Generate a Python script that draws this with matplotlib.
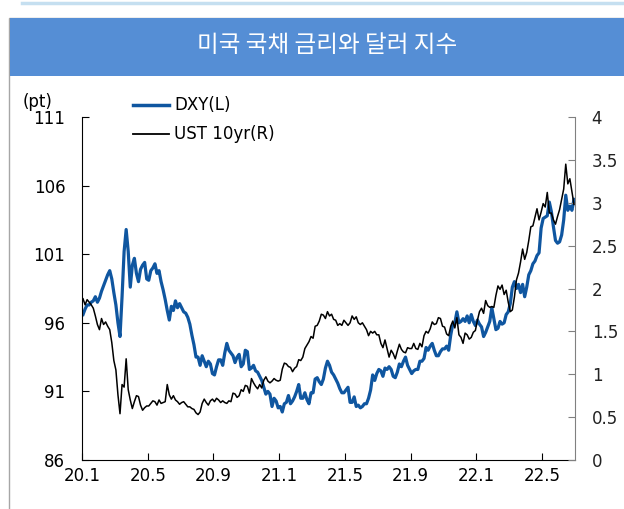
import numpy as np
import matplotlib.pyplot as plt
from matplotlib.patches import Rectangle
from matplotlib.lines import Line2D

plt.rcParams['font.family'] = ['DejaVu Sans', 'Noto Sans CJK KR']

# 월별 8개 관측치 (2020.1 ~ 2022.6)
dxy_2020 = [
    96.6, 97.0, 97.3, 97.3, 97.5, 97.6, 97.9, 97.5,
    97.8, 98.3, 98.7, 99.1, 99.5, 99.8, 99.2, 98.2,
    97.3, 96.0, 95.0, 97.9, 101.2, 102.8, 101.2, 98.6,
    100.2, 100.7, 99.6, 99.0, 99.9, 100.2, 100.4, 99.2,
    99.1, 99.8, 100.0, 100.3, 99.6, 99.8, 99.0, 98.4,
    97.7, 96.9, 96.2, 97.2, 96.9, 97.6, 97.1, 97.4,
    97.1, 96.8, 96.7, 96.4, 95.9, 95.1, 94.4, 93.5,
    93.5, 92.9, 93.6, 93.2, 92.8, 93.2, 93.0, 92.3,
    92.2, 92.8, 93.3, 93.3, 92.9, 93.8, 94.5, 94.0,
    93.8, 93.6, 93.1, 93.5, 93.7, 92.8, 93.0, 94.0,
    93.9, 92.6, 92.7, 92.9, 92.5, 92.4, 92.1, 91.8,
    91.3, 90.8, 91.0, 90.8, 89.9, 90.5, 90.3, 89.8,
]
dxy_2021 = [
    89.9, 89.5, 90.1, 90.2, 90.7, 90.1, 90.3, 90.6,
    91.0, 91.5, 90.5, 90.5, 90.9, 90.4, 90.1, 90.9,
    90.9, 91.9, 92.0, 91.7, 91.5, 91.9, 92.7, 93.2,
    92.9, 92.4, 92.2, 91.9, 91.6, 91.2, 90.9, 90.9,
    91.1, 91.3, 90.2, 90.2, 90.6, 89.9, 90.0, 89.8,
    89.9, 90.1, 90.1, 90.5, 91.1, 92.2, 91.8, 92.3,
    92.6, 92.5, 92.1, 92.7, 92.6, 92.8, 92.6, 92.1,
    92.0, 92.4, 93.0, 92.8, 93.2, 93.5, 92.9, 92.6,
    92.3, 92.5, 92.6, 92.6, 93.2, 93.2, 93.4, 94.2,
    94.0, 94.3, 94.5, 94.0, 93.6, 93.6, 93.9, 94.1,
    94.1, 94.3, 94.0, 95.1, 95.9, 96.0, 96.8, 96.0,
    96.1, 96.3, 96.1, 96.5, 96.0, 96.6, 96.1, 95.8,
]
dxy_2022 = [
    96.2, 95.9, 95.7, 95.0, 95.3, 95.7, 96.1, 97.1,
    96.3, 95.5, 95.6, 96.1, 95.9, 96.0, 96.6, 96.8,
    97.4, 98.6, 99.0, 98.5, 98.8, 98.2, 98.8, 97.9,
    98.6, 99.5, 99.8, 100.3, 100.5, 100.9, 101.1, 102.9,
    103.6, 103.7, 103.8, 104.8, 104.1, 103.0, 102.0, 101.8,
    101.9, 102.4, 103.5, 105.3, 104.2, 104.5, 104.2, 105.0,
]

ust_2020 = [
    1.88, 1.81, 1.87, 1.84, 1.81, 1.77, 1.68, 1.58,
    1.52, 1.65, 1.58, 1.61, 1.56, 1.52, 1.37, 1.16,
    1.05, 0.76, 0.54, 0.88, 0.85, 1.18, 0.82, 0.70,
    0.60, 0.68, 0.75, 0.74, 0.64, 0.58, 0.61, 0.63,
    0.63, 0.66, 0.69, 0.68, 0.64, 0.70, 0.66, 0.67,
    0.68, 0.88, 0.76, 0.71, 0.75, 0.70, 0.68, 0.65,
    0.67, 0.68, 0.65, 0.62, 0.62, 0.60, 0.59, 0.55,
    0.53, 0.56, 0.66, 0.71, 0.67, 0.64, 0.69, 0.71,
    0.68, 0.72, 0.70, 0.67, 0.69, 0.67, 0.66, 0.69,
    0.68, 0.78, 0.77, 0.73, 0.75, 0.82, 0.80, 0.87,
    0.86, 0.78, 0.95, 0.90, 0.86, 0.83, 0.88, 0.84,
    0.93, 0.97, 0.92, 0.90, 0.92, 0.95, 0.93, 0.92,
]
ust_2021 = [
    0.93, 1.06, 1.13, 1.12, 1.09, 1.08, 1.03, 1.07,
    1.09, 1.17, 1.16, 1.20, 1.30, 1.34, 1.38, 1.44,
    1.42, 1.56, 1.57, 1.62, 1.70, 1.69, 1.65, 1.73,
    1.68, 1.70, 1.64, 1.63, 1.57, 1.59, 1.57, 1.63,
    1.60, 1.57, 1.60, 1.68, 1.64, 1.67, 1.60, 1.58,
    1.60, 1.56, 1.52, 1.45, 1.50, 1.48, 1.50, 1.46,
    1.46, 1.36, 1.31, 1.40, 1.30, 1.20, 1.28, 1.24,
    1.18, 1.27, 1.35, 1.29, 1.26, 1.25, 1.31, 1.30,
    1.30, 1.36, 1.30, 1.29, 1.36, 1.32, 1.45, 1.50,
    1.48, 1.53, 1.61, 1.58, 1.59, 1.66, 1.65, 1.56,
    1.55, 1.47, 1.45, 1.56, 1.62, 1.54, 1.66, 1.46,
    1.43, 1.36, 1.48, 1.46, 1.41, 1.43, 1.49, 1.51,
]
ust_2022 = [
    1.63, 1.73, 1.77, 1.71, 1.86, 1.80, 1.78, 1.79,
    1.78, 1.92, 2.03, 1.99, 2.04, 1.93, 1.98, 1.84,
    1.73, 1.75, 1.90, 2.10, 2.18, 2.31, 2.46, 2.34,
    2.42, 2.56, 2.72, 2.73, 2.83, 2.93, 2.80, 2.89,
    2.99, 2.95, 3.12, 2.88, 2.88, 2.80, 2.75, 2.84,
    2.92, 3.04, 3.16, 3.45, 3.22, 3.28, 3.13, 2.98,
]

tick_labels = ['20.1', '20.5', '20.9', '21.1', '21.5', '21.9', '22.1', '22.5']

dxy = np.array(dxy_2020 + dxy_2021 + dxy_2022)
ust = np.array(ust_2020 + ust_2021 + ust_2022)
x_dxy = (np.arange(len(dxy)) + 0.5) / 8  # 단위: 월
x_ust = (np.arange(len(ust)) + 0.5) / 8

W, H = 624, 509
fig = plt.figure(figsize=(W / 100, H / 100), dpi=100)

# 배경 장식 (제목 바, 테두리)
fig.add_artist(Line2D([22 / W, 1], [1 - 3 / H, 1 - 3 / H], color='#c5dff0', lw=2.5,
                      transform=fig.transFigure))
fig.add_artist(Rectangle((9 / W, -0.05), 1.0, 1 - 18 / H + 0.05, transform=fig.transFigure,
                         facecolor='none', edgecolor='#a6a6a6', lw=1))
fig.add_artist(Rectangle((9.5 / W, 1 - 76 / H), 1.0, 58 / H, transform=fig.transFigure,
                         facecolor='#558ed5', edgecolor='none'))
fig.text(327 / W, 1 - 45 / H, '미국 국채 금리와 달러 지수', color='white', fontsize=17,
         ha='center', va='center', family=['Noto Sans CJK KR', 'DejaVu Sans'])

ax = fig.add_axes([82 / W, 1 - 460 / H, (575 - 82) / W, (460 - 117) / H])
ax.plot(x_dxy, dxy, color='#0f56a0', lw=2.3)
ax.set_xlim(0, 30)
ax.set_ylim(86, 111)
ax.set_yticks(np.arange(86, 112, 5))
ax.set_xticks(np.arange(len(tick_labels)) * 4)
ax.set_xticklabels(tick_labels)
ax.tick_params(axis='x', direction='in', length=5, labelsize=12, pad=5)
ax.tick_params(axis='y', direction='in', length=5, labelsize=12, pad=12)
ax.spines['top'].set_visible(False)
ax.spines['right'].set_visible(False)

ax2 = ax.twinx()
ax2.plot(x_ust, ust, color='black', lw=1.1)
ax2.set_ylim(0, 4)
ax2.set_yticks(np.arange(0, 4.01, 0.5))
ax2.set_yticklabels(['%g' % v for v in np.arange(0, 4.01, 0.5)])
ax2.tick_params(axis='y', direction='in', length=5, labelsize=12, pad=12,
                color='#808080', labelcolor='#222222')
for s in ['top', 'left', 'bottom']:
    ax2.spines[s].set_visible(False)
ax2.spines['right'].set_color('#808080')

fig.text(38 / W, 1 - 102 / H, '(pt)', fontsize=12, ha='center', va='center')

# 범례
fig.add_artist(Line2D([133 / W, 169 / W], [1 - 105 / H] * 2, color='#0f56a0', lw=2.5,
                      transform=fig.transFigure))
fig.add_artist(Line2D([133 / W, 169 / W], [1 - 134 / H] * 2, color='black', lw=1.3,
                      transform=fig.transFigure))
fig.text(174 / W, 1 - 105 / H, 'DXY(L)', fontsize=12, va='center')
fig.text(174 / W, 1 - 134 / H, 'UST 10yr(R)', fontsize=12, va='center')

plt.savefig('out.png', dpi=100)
